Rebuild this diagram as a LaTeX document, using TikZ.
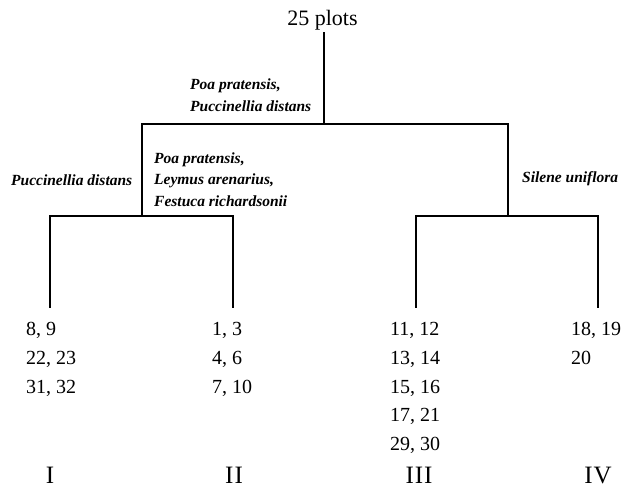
\documentclass[tikz,border=0pt]{standalone}
\usepackage{fontspec}
\setmainfont{Liberation Serif}
\begin{document}
\begin{tikzpicture}[x=1pt,y=-1pt,
  br/.style={line width=1.6pt,line cap=rect},
  lab/.style={font=\fontsize{15.5}{21.5}\selectfont\bfseries\itshape,align=left,inner sep=0pt},
  nums/.style={font=\fontsize{20}{28.8}\selectfont,align=left,anchor=north west,inner sep=0pt},
  rom/.style={font=\fontsize{25}{29}\selectfont\addfontfeature{LetterSpace=4},inner sep=0pt,anchor=base}]
\useasboundingbox (0,0) rectangle (628,489);
\node[font=\fontsize{22}{26}\selectfont,inner sep=0pt,anchor=base] (root) at (322.5,26) {25 plots};
\coordinate (r0) at (324,33);
\coordinate (r1) at (324,124);
\coordinate (a) at (142,124);
\coordinate (b) at (508,124);
\coordinate (a1) at (142,216);
\coordinate (b1) at (508,216);
\coordinate (l1) at (50,216);
\coordinate (l2) at (233,216);
\coordinate (l3) at (416,216);
\coordinate (l4) at (598,216);
\coordinate (e1) at (50,307);
\coordinate (e2) at (233,307);
\coordinate (e3) at (416,307);
\coordinate (e4) at (598,307);
\draw[br] (r0) -- (r1);
\draw[br] (a) -- (b);
\draw[br] (a) -- (a1);
\draw[br] (b) -- (b1);
\draw[br] (l1) -- (l2);
\draw[br] (l3) -- (l4);
\draw[br] (l1) -- (e1);
\draw[br] (l2) -- (e2);
\draw[br] (l3) -- (e3);
\draw[br] (l4) -- (e4);
\node[lab,anchor=west] (t1) at (190,95) {Poa pratensis,\\Puccinellia distans};
\node[lab,anchor=west] (t2) at (11,180) {Puccinellia distans};
\node[lab,anchor=west] (t3) at (154,179.5) {Poa pratensis,\\Leymus arenarius,\\Festuca richardsonii};
\node[lab,anchor=west] (t4) at (522,179) {Silene uniflora};
\node[nums] (n1) at (26,322) {8, 9\\22, 23\\31, 32};
\node[nums] (n2) at (212,322) {1, 3\\4, 6\\7, 10};
\node[nums] (n3) at (390,322) {11, 12\\13, 14\\15, 16\\17, 21\\29, 30};
\node[nums] (n4) at (571,322) {18, 19\\20};
\node[rom] (c1) at (50,483) {I};
\node[rom] (c2) at (234,483) {II};
\node[rom] (c3) at (419,483) {III};
\node[rom] (c4) at (598,483) {IV};
\end{tikzpicture}
\end{document}
